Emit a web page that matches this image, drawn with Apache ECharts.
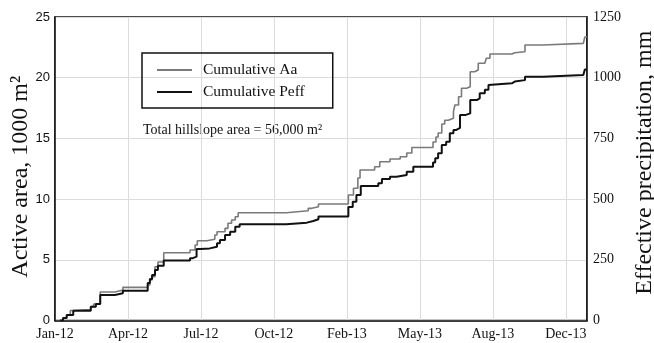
<!DOCTYPE html>
<html>
<head>
<meta charset="utf-8">
<script src="https://cdn.jsdelivr.net/npm/echarts@6/dist/echarts.min.js"></script>
<style>html,body{margin:0;padding:0;background:#fff;}#c{width:654px;height:343px;}</style>
</head>
<body>
<div id="c"></div>
<script>
// x positions are in "tick units": each labelled tick is 100 units apart
var tickLabels = ['Jan-12','Apr-12','Jul-12','Oct-12','Feb-13','May-13','Aug-13','Dec-13'];
var xAa = [7,11,16,21,25,49,53,62,82,93,127,130,133,137,141,149,185,192,195,208,219,222,233,237,242,247,251,317,347,352,361,402,409,415,418,438,445,459,473,482,489,518,522,525,530,534,539,546,548,553,557,564,569,575,580,589,591,596,626,630,644,669,724,726,729];
var aa = [0,0.21,0.45,0.82,0.91,1.14,1.36,2.35,2.51,2.73,2.92,3.34,3.61,4.43,4.82,5.58,5.81,6.22,6.57,6.69,7.04,7.31,7.59,8.01,8.28,8.55,8.88,9.04,9.24,9.37,9.6,10.34,10.89,11.74,12.4,12.67,13.08,13.3,13.49,13.8,14.25,14.7,15.11,15.44,16.18,16.5,16.66,17.2,17.75,18.43,19.13,19.26,20.49,20.63,21.19,21.32,21.6,21.95,22.06,22.14,22.69,22.83,22.97,23.35,23.35];
var xPe = [7,11,16,25,49,56,62,82,93,127,130,133,137,141,149,185,188,194,199,212,222,226,233,240,247,253,317,345,354,361,402,408,413,419,443,448,459,468,482,491,518,521,525,530,536,541,546,550,555,562,569,578,582,589,594,596,626,630,644,669,724,726,729];
var pe = [0,10,23,40,57,68,105,112,123,154,171,187,208,225,247,256,263,294,297,304,318,332,352,366,386,396,403,410,417,428,467,489,517,554,565,583,592,599,613,633,651,668,689,723,736,771,785,793,846,853,908,915,936,950,970,977,984,990,1004,1011,1013,1034,1034];

function zip(xs, ys){ return xs.map(function(x,i){ return [x, ys[i]]; }); }

var serif = '"Liberation Serif","DejaVu Serif",serif';
var chart = echarts.init(document.getElementById('c'), null, {renderer:'canvas'});
chart.setOption({
  animation: false,
  backgroundColor: '#fff',
  grid: {left: 55, right: 67, top: 17, bottom: 22.5, show: true, borderColor: '#111', borderWidth: 1.5, containLabel: false, outerBoundsMode: 'none'},
  legend: {
    left: 142, top: 53, orient: 'vertical',
    icon: 'rect', itemWidth: 35, itemHeight: 2, itemGap: 6,
    borderColor: '#111', borderWidth: 1.5, padding: [9, 28, 8, 15],
    textStyle: {fontFamily: serif, fontSize: 15.5, color: '#111', padding: [0,0,0,6]},
    data: ['Cumulative Aa', 'Cumulative Peff']
  },
  graphic: [{
    type: 'text', left: 143, top: 123,
    style: {text: 'Total hillslope area = 56,000 m²', font: '14px ' + serif, fill: '#111'}
  }],
  xAxis: {
    type: 'value', min: 0, max: 729, interval: 100,
    axisLine: {show: true, lineStyle: {color: '#111', width: 1.5}},
    axisTick: {show: false},
    splitLine: {show: true, lineStyle: {color: '#dcdcdc', width: 1}},
    axisLabel: {
      margin: 7, fontFamily: serif, fontSize: 14, color: '#111',
      formatter: function(v){ var i = v/100; return (i === Math.round(i) && tickLabels[i]) ? tickLabels[i] : ''; }
    }
  },
  yAxis: [{
    type: 'value', min: 0, max: 25, interval: 5,
    name: 'Active area, 1000 m²', nameLocation: 'middle', nameGap: 22, nameRotate: 90, nameMoveOverlap: false,
    nameTextStyle: {fontFamily: serif, fontSize: 24, color: '#111', padding: [0, 16, 0, 0]},
    axisLine: {show: true, lineStyle: {color: '#111', width: 1.5}},
    axisTick: {show: false},
    splitLine: {show: true, lineStyle: {color: '#dcdcdc', width: 1}},
    axisLabel: {margin: 5, fontFamily: '"Liberation Sans","DejaVu Sans",sans-serif', fontSize: 13, color: '#111'}
  },{
    type: 'value', min: 0, max: 1250, interval: 250, position: 'right',
    name: 'Effective precipitation, mm', nameLocation: 'middle', nameGap: 46, nameRotate: 90, nameMoveOverlap: false,
    nameTextStyle: {fontFamily: serif, fontSize: 24, color: '#111', padding: [0, 0, 0, 12]},
    axisLine: {show: true, lineStyle: {color: '#111', width: 1.5}},
    axisTick: {show: false},
    splitLine: {show: false},
    axisLabel: {margin: 6, fontFamily: serif, fontSize: 14, color: '#111', formatter: function(v){ return String(v); }}
  }],
  series: [{
    name: 'Cumulative Aa', type: 'line', step: 'end', yAxisIndex: 0, symbol: 'none',
    color: '#7a7a7a', lineStyle: {color: '#7a7a7a', width: 1.6},
    data: zip(xAa, aa)
  },{
    name: 'Cumulative Peff', type: 'line', step: 'end', yAxisIndex: 1, symbol: 'none',
    color: '#111', lineStyle: {color: '#111', width: 2},
    data: zip(xPe, pe)
  }]
});
</script>
</body>
</html>
